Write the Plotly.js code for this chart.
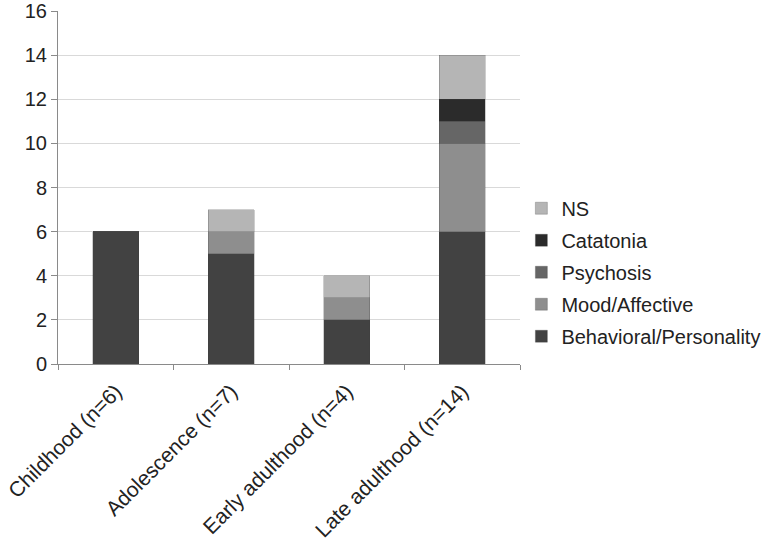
<!DOCTYPE html>
<html><head><meta charset="utf-8">
<script src="https://cdn.plot.ly/plotly-3.0.1.min.js"></script>
<style>html,body{margin:0;padding:0;background:#fff}#c{width:781px;height:547px}</style>
</head><body><div id="c"></div>
<script>
const categories = ["Childhood (n=6)", "Adolescence (n=7)", "Early adulthood (n=4)", "Late adulthood (n=14)"];
const behavioral = [6, 5, 2, 6];
const mood = [0, 1, 1, 4];
const psychosis = [0, 0, 0, 1];
const catatonia = [0, 0, 0, 1];
const ns = [0, 1, 1, 2];
const seriesNames = ["Behavioral/Personality", "Mood/Affective", "Psychosis", "Catatonia", "NS"];
const seriesValues = [behavioral, mood, psychosis, catatonia, ns];
const seriesColors = ["#424242", "#8e8e8e", "#666666", "#2b2b2b", "#b5b5b5"];

const traces = seriesNames.map((n, i) => ({
  type: 'bar', name: n, x: categories, y: seriesValues[i],
  marker: {color: seriesColors[i], line: {color: 'rgba(60,60,60,0.5)', width: 0.5}},
  legendgroup: 'g' + i, legendrank: 10 - i, hoverinfo: 'skip'
}));

const layout = {
  width: 781, height: 547,
  margin: {l: 58, r: 261, t: 11, b: 183, pad: 0, autoexpand: false},
  barmode: 'stack', bargap: 0.6,
  paper_bgcolor: '#fff', plot_bgcolor: '#fff',
  font: {family: 'Liberation Sans, Arial, sans-serif', color: '#222', size: 20},
  showlegend: true,
  legend: {x: 1.003, xanchor: 'left', y: 0.26, yanchor: 'middle', traceorder: 'grouped',
           tracegroupgap: 3, font: {size: 20, color: '#222'}, itemwidth: 30, bgcolor: 'rgba(0,0,0,0)'},
  xaxis: {type: 'category', showline: true, linecolor: '#8a8a8a', linewidth: 1,
          ticks: 'outside', tickson: 'boundaries', ticklen: 5, tickcolor: '#8a8a8a',
          tickangle: -45, tickfont: {size: 21}, ticklabelstandoff: 6, showgrid: false, zeroline: false},
  yaxis: {range: [0, 16], dtick: 2, showline: true, linecolor: '#8a8a8a', linewidth: 1,
          ticks: 'outside', ticklen: 6, tickcolor: '#8a8a8a', showgrid: true, gridcolor: '#d9d9d9',
          gridwidth: 1, zeroline: false, tickfont: {size: 20}}
};
Plotly.newPlot('c', traces, layout, {displayModeBar: false, staticPlot: true});
</script></body></html>
